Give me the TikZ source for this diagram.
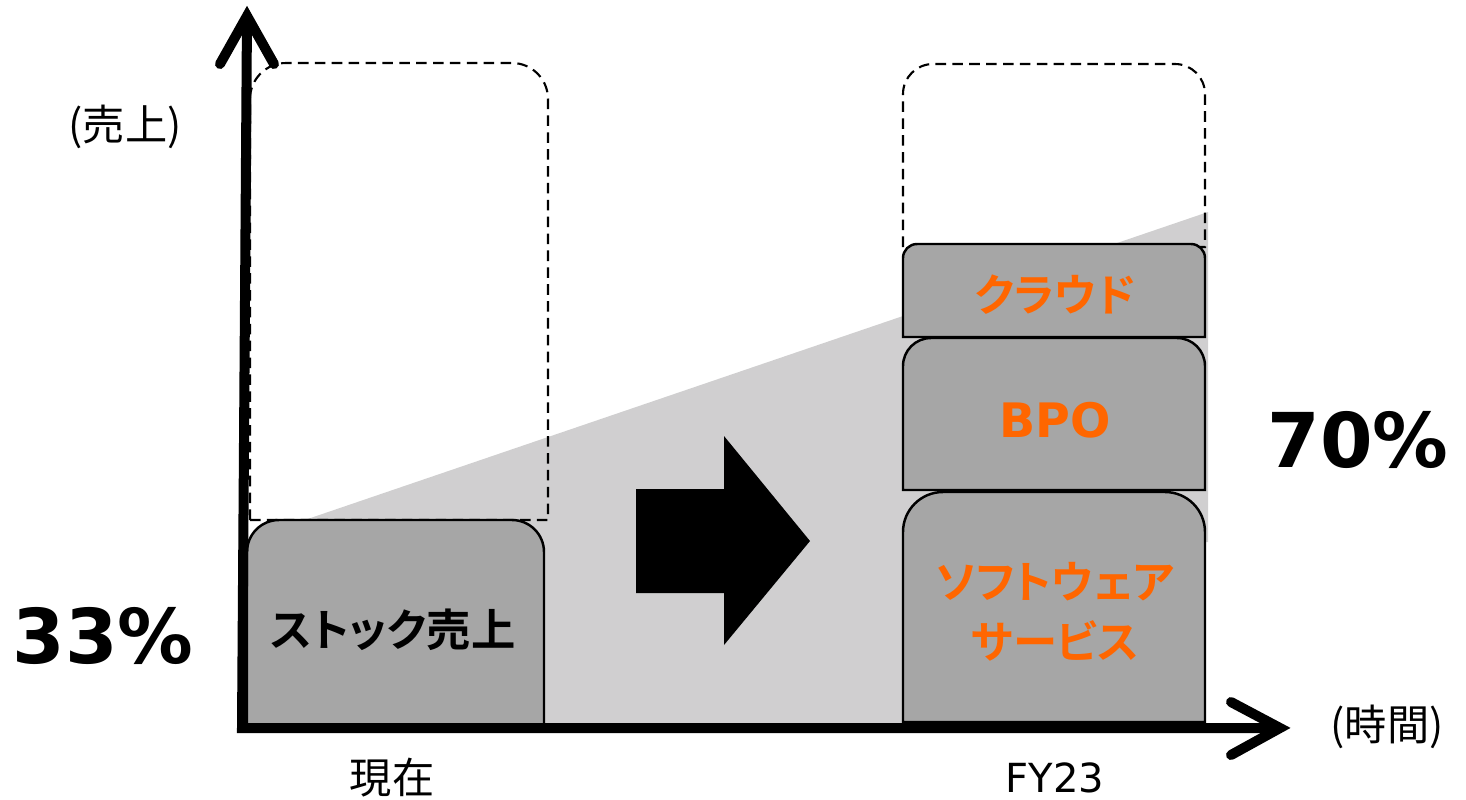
\documentclass[tikz,border=0pt]{standalone}
\usepackage{fontspec}
\setmainfont{DejaVu Sans}
\newfontfamily\jp[RawFeature=+palt,BoldFont={Noto Sans CJK JP Bold}]{Noto Sans CJK JP}

\definecolor{barfill}{HTML}{A6A6A6}
\definecolor{trendfill}{HTML}{D0CFD0}
\definecolor{accent}{HTML}{FF6600}

% box with rounded top corners: style, x1, y1, x2, y2, radius (pixels, y down)
\newcommand{\roundtop}[6]{\path[#1] (#2,-#5) -- (#2,-#3-#6) arc[start angle=180,end angle=90,radius=#6] -- (#4-#6,-#3) arc[start angle=90,end angle=0,radius=#6] -- (#4,-#5) -- cycle;}

\begin{document}
\begin{tikzpicture}[x=0.01cm,y=0.01cm]
\tikzstyle{bar}=[draw=black,line width=0.7pt,fill=barfill]
\tikzstyle{plan}=[draw=black,line width=0.6pt,dash pattern=on 3pt off 1.8pt]
\tikzstyle{axis}=[draw=black,line width=0.1cm]
\tikzstyle{lbl}=[inner sep=0pt,font=\jp\fontsize{12}{14}\selectfont]
\tikzstyle{seglbl}=[inner sep=0pt,text=accent,font=\jp\bfseries\fontsize{12.6}{16}\selectfont]
\tikzstyle{pct}=[inner sep=0pt,font=\bfseries\fontsize{21.5}{24}\selectfont]
\useasboundingbox (0,0) rectangle (1466,-799);

% growth band
\fill[trendfill] (246,-728) -- (246,-540) -- (1208,-212) -- (1208,-542) -- (1204,-542) -- (1204,-728) -- cycle;

% planned totals
\roundtop{plan}{250}{63}{548}{520}{36}
\roundtop{plan}{903}{64}{1205}{247}{30}

% bars
\roundtop{bar}{247}{520}{544}{725}{32}
\roundtop{bar}{903}{492}{1205}{722}{40}
\roundtop{bar}{903}{338}{1205}{490}{28}
\roundtop{bar}{903}{244}{1205}{337}{14}

% axes
\coordinate (origin) at (242,-728);
\coordinate (ytop) at (247,-16);
\coordinate (xend) at (1280,-728);
\draw[axis,line join=miter] (ytop) -- (origin) -- (xend);
\draw[axis,line cap=round] (ytop) ++(-27,-48) -- (ytop) -- ++(27,-48);
\draw[axis,line cap=round] (xend) ++(-49,26) -- (xend) -- ++(-49,-27);

% shift arrow
\fill[black] (636,-489) -- (724,-489) -- (724,-436) -- (810,-541) -- (724,-645) -- (724,-593) -- (636,-593) -- cycle;

% labels
\node[lbl] (sales) at (125,-127) {(売上)};
\node[lbl] (time) at (1387,-727) {(時間)};
\node[lbl] (now) at (392,-778) {現在};
\node[inner sep=0pt,font=\fontsize{11.4}{14}\selectfont] (fy) at (1055,-778) {FY23};
\node[pct] (before) at (103,-636) {33\%};
\node[pct] (after) at (1358,-440) {70\%};
\node[seglbl,text=black] (stock) at (393,-630) {ストック売上};
\node[seglbl] (cloud) at (1055,-295) {クラウド};
\node[seglbl,font=\bfseries\fontsize{13.5}{16}\selectfont] (bpo) at (1055,-420) {BPO};
\node[seglbl,align=center] (soft) at (1055,-612) {ソフトウェア\\[1pt]サービス};
\end{tikzpicture}
\end{document}
